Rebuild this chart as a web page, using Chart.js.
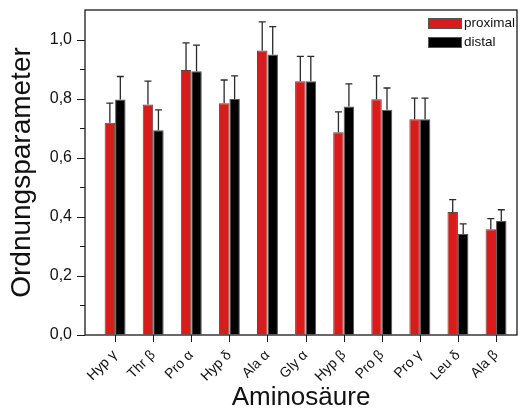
<!DOCTYPE html>
<html>
<head>
<meta charset="utf-8">
<script src="https://cdn.jsdelivr.net/npm/chart.js@4"></script>
<style>
  body { margin: 0; background: #fff; }
  #wrap { width: 520px; height: 408px; }
</style>
</head>
<body>
<div id="wrap"><canvas id="chart"></canvas></div>
<script>
const aminoAcids = ["Hyp γ", "Thr β", "Pro α", "Hyp δ", "Ala α", "Gly α", "Hyp β", "Pro β", "Pro γ", "Leu δ", "Ala β"];
const proximal = [0.718, 0.780, 0.897, 0.784, 0.963, 0.859, 0.686, 0.798, 0.730, 0.416, 0.358];
const proximalErr = [0.067, 0.079, 0.092, 0.079, 0.097, 0.084, 0.069, 0.079, 0.072, 0.042, 0.036];
const distal = [0.797, 0.693, 0.893, 0.799, 0.949, 0.859, 0.773, 0.762, 0.730, 0.342, 0.386];
const distalErr = [0.078, 0.069, 0.088, 0.078, 0.095, 0.084, 0.077, 0.074, 0.072, 0.034, 0.038];
const yTicks = [0, 0.1, 0.2, 0.3, 0.4, 0.5, 0.6, 0.7, 0.8, 0.9, 1.0];

const font = "'Liberation Sans', Arial, sans-serif";
const red = "#d81c1c";

const toPoints = (vals) => vals.map((v, i) => ({ x: i + 1, y: v }));

// upper error bars with caps
const errorBars = {
  id: "errorBars",
  afterDatasetsDraw(chart) {
    const { ctx } = chart;
    const yScale = chart.scales.y;
    ctx.save();
    ctx.strokeStyle = "#2a2a2a";
    ctx.lineWidth = 1.3;
    chart.data.datasets.forEach((ds, i) => {
      const meta = chart.getDatasetMeta(i);
      meta.data.forEach((bar, j) => {
        const top = yScale.getPixelForValue(ds.data[j].y + ds.errors[j]);
        ctx.beginPath();
        ctx.moveTo(bar.x, bar.y);
        ctx.lineTo(bar.x, top);
        ctx.moveTo(bar.x - 3.5, top);
        ctx.lineTo(bar.x + 3.5, top);
        ctx.stroke();
      });
    });
    ctx.restore();
  },
};

// frame, tick marks and legend box
const frame = {
  id: "frame",
  afterDraw(chart) {
    const { ctx, chartArea: a } = chart;
    const { x, y } = chart.scales;
    ctx.save();
    ctx.strokeStyle = "#1a1a1a";
    ctx.lineWidth = 1.3;
    ctx.strokeRect(a.left, a.top, a.right - a.left, a.bottom - a.top);
    ctx.lineWidth = 1;
    ctx.beginPath();
    yTicks.forEach((v) => {
      const py = Math.round(y.getPixelForValue(v)) + 0.5;
      const major = Math.round(v * 10) % 2 === 0;
      ctx.moveTo(a.left, py);
      ctx.lineTo(a.left - (major ? 8 : 5), py);
    });
    aminoAcids.forEach((_, i) => {
      const px = Math.round(x.getPixelForValue(i + 1)) + 0.5;
      ctx.moveTo(px, a.bottom);
      ctx.lineTo(px, a.bottom + 7);
    });
    ctx.stroke();

    // legend
    const lx = a.right - 89;
    const items = [["proximal", red, a.top + 8], ["distal", "#000", a.top + 27]];
    ctx.font = "13.5px " + font;
    ctx.textBaseline = "middle";
    items.forEach(([label, color, ly]) => {
      ctx.fillStyle = color;
      ctx.fillRect(lx, ly, 34, 11);
      ctx.strokeStyle = "#555";
      ctx.strokeRect(lx + 0.5, ly + 0.5, 33, 10);
      ctx.fillStyle = "#111";
      ctx.fillText(label, lx + 36, ly + 5.5);
    });
    ctx.restore();
  },
};

new Chart(document.getElementById("chart"), {
  type: "bar",
  data: {
    datasets: [
      {
        label: "proximal",
        data: toPoints(proximal),
        errors: proximalErr,
        backgroundColor: red,
        borderColor: "#5a4a42",
        borderWidth: 1,
      },
      {
        label: "distal",
        data: toPoints(distal),
        errors: distalErr,
        backgroundColor: "#000",
        borderColor: "#555",
        borderWidth: 1,
      },
    ],
  },
  options: {
    responsive: true,
    maintainAspectRatio: false,
    animation: false,
    categoryPercentage: 0.55,
    barPercentage: 1.0,
    layout: { padding: { top: 10, right: 3, left: 0, bottom: 0 } },
    plugins: { legend: { display: false }, tooltip: { enabled: false } },
    scales: {
      x: {
        type: "linear",
        offset: false,
        min: 0.21,
        max: 11.55,
        afterBuildTicks(scale) {
          scale.ticks = aminoAcids.map((_, i) => ({ value: i + 1 }));
        },
        afterFit(scale) {
          scale.height = 73;
          scale.paddingLeft = 0;
          scale.paddingRight = 0;
        },
        grid: { drawOnChartArea: false, tickLength: 7, tickColor: "rgba(0,0,0,0)" },
        border: { display: false },
        ticks: {
          minRotation: 45,
          maxRotation: 45,
          padding: 5,
          color: "#111",
          font: { family: font, size: 14 },
          callback: (v) => aminoAcids[Math.round(v) - 1] || "",
        },
        title: {
          display: true,
          text: "Aminosäure",
          color: "#111",
          font: { family: font, size: 26, lineHeight: 0.8 },
          padding: { top: 0, bottom: 0 },
        },
      },
      y: {
        min: 0,
        max: 1.1,
        afterBuildTicks(scale) {
          scale.ticks = yTicks.map((v) => ({ value: v }));
        },
        afterFit(scale) {
          scale.width = 85;
          scale.paddingTop = 0;
          scale.paddingBottom = 0;
        },
        grid: { drawOnChartArea: false, tickLength: 8, tickColor: "rgba(0,0,0,0)" },
        border: { display: false },
        ticks: {
          padding: 5,
          color: "#111",
          font: { family: font, size: 16 },
          callback: (v) => (Math.round(v * 10) % 2 === 0 ? v.toFixed(1).replace(".", ",") : ""),
        },
        title: {
          display: true,
          text: "Ordnungsparameter",
          color: "#111",
          font: { family: font, size: 28, lineHeight: 1 },
          padding: { top: 8, bottom: 0 },
        },
      },
    },
  },
  plugins: [errorBars, frame],
});
</script>
</body>
</html>
